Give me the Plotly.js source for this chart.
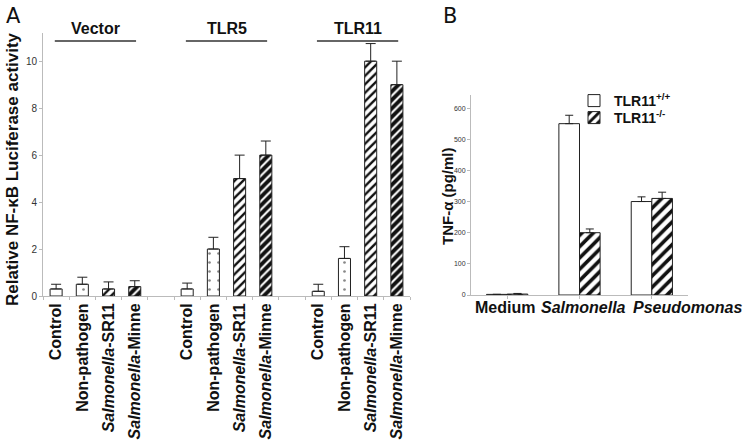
<!DOCTYPE html>
<html>
<head>
<meta charset="utf-8">
<script src="https://cdn.plot.ly/plotly-3.0.1.min.js"></script>
<style>html,body{margin:0;padding:0;background:#fff}#chart{width:745px;height:441px}</style>
</head>
<body>
<div id="chart"></div>
<script>
// ---- Panel A data ----
const groupsA = ['Vector', 'TLR5', 'TLR11'];
const treatmentsA = ['Control', 'Non-pathogen', '<i>Salmonella</i>-SR11', '<i>Salmonella</i>-Minne'];
const controlA = [0.3, 0.3, 0.2];
const nonPathogenA = [0.5, 2.0, 1.6];
const sr11A = [0.3, 5.0, 10.0];
const minneA = [0.4, 6.0, 9.0];
const controlErrA = [0.2, 0.25, 0.3];
const nonPathogenErrA = [0.3, 0.5, 0.5];
const sr11ErrA = [0.3, 1.0, 0.75];
const minneErrA = [0.25, 0.6, 1.0];
const yTicksA = [0, 2, 4, 6, 8, 10];

// ---- Panel B data ----
const categoriesB = ['Medium', 'Salmonella', 'Pseudomonas'];
const categoryLabelsB = ['Medium', '<i>Salmonella</i>', '<i>Pseudomonas</i>'];
const seriesB = ['TLR11<sup>+/+</sup>', 'TLR11<sup>-/-</sup>'];
const wildTypeB = [2, 550, 300];
const knockoutB = [3, 200, 310];
const wildTypeErrB = [0, 27, 15];
const knockoutErrB = [2, 12, 20];
const yTicksB = [0, 100, 200, 300, 400, 500, 600];

const W = 745, H = 441;
const FONT = 'Liberation Sans, Arial, Helvetica, sans-serif';

// slot positions: 4 bars per group, one blank slot between groups
const slotsPerGroup = treatmentsA.length + 1;
function positions(tIdx) { return groupsA.map((g, gi) => gi * slotsPerGroup + tIdx); }
const tickValsA = [], tickTextA = [];
groupsA.forEach((g, gi) => treatmentsA.forEach((t, ti) => { tickValsA.push(gi * slotsPerGroup + ti); tickTextA.push(t); }));

const seriesA = [controlA, nonPathogenA, sr11A, minneA];
const errsA = [controlErrA, nonPathogenErrA, sr11ErrA, minneErrA];
const patternsA = [
  {shape: '', fgcolor: '#000', bgcolor: '#fff'},
  {shape: '.', fgcolor: '#888', bgcolor: '#fff', size: 9, solidity: 0.07},
  {shape: '/', fgcolor: '#111', bgcolor: '#fff', size: 6, solidity: 0.4},
  {shape: '/', fgcolor: '#111', bgcolor: '#fff', size: 6, solidity: 0.65}
];
const BW = 0.46;
const traces = seriesA.map((vals, i) => ({
  type: 'bar', x: positions(i), y: vals, xaxis: 'x', yaxis: 'y',
  width: BW, offset: -BW / 2, showlegend: false, name: treatmentsA[i],
  marker: {color: '#fff', line: {color: '#222', width: 1}, pattern: patternsA[i]},
  error_y: {type: 'data', array: errsA[i], arrayminus: vals.map(() => 0), symmetric: false,
            color: '#222', thickness: 1, width: 5}
}));

const BWB = 0.285;
traces.push({
  type: 'bar', x: categoriesB, y: wildTypeB, xaxis: 'x2', yaxis: 'y2', name: seriesB[0], legend: 'legend',
  width: BWB, offset: -BWB,
  marker: {color: '#fff', line: {color: '#222', width: 1}},
  error_y: {type: 'data', array: wildTypeErrB, arrayminus: wildTypeB.map(() => 0), symmetric: false,
            color: '#222', thickness: 1, width: 4}
});
traces.push({
  type: 'bar', x: categoriesB, y: knockoutB, xaxis: 'x2', yaxis: 'y2', name: seriesB[1], legend: 'legend2',
  width: BWB, offset: 0,
  marker: {color: '#fff', line: {color: '#222', width: 1},
           pattern: {shape: '/', fgcolor: '#111', bgcolor: '#fff', size: 8, solidity: 0.45}},
  error_y: {type: 'data', array: knockoutErrB, arrayminus: knockoutB.map(() => 0), symmetric: false,
            color: '#222', thickness: 1, width: 4}
});

const annotations = [];
const shapes = [];
groupsA.forEach((g, gi) => {
  const c = gi * slotsPerGroup + (treatmentsA.length - 1) / 2;
  annotations.push({text: '<b>' + g + '</b>', x: c, xref: 'x', y: 1 - 28 / H, yref: 'paper',
    showarrow: false, font: {family: FONT, size: 16, color: '#111'}, xanchor: 'center', yanchor: 'middle'});
  shapes.push({type: 'line', xref: 'x', yref: 'paper', x0: c - 1.55, x1: c + 1.55,
    y0: 1 - 41 / H, y1: 1 - 41 / H, line: {color: '#333', width: 1.5}});
});
// Panel B category labels (set as text, spaced like the original figure)
const labelCentersB = [505, 583, 687];
categoryLabelsB.forEach((t, i) => {
  annotations.push({text: '<b>' + t + '</b>', x: labelCentersB[i] / W, xref: 'paper', y: 1 - 307 / H, yref: 'paper',
    showarrow: false, xanchor: 'center', yanchor: 'middle', font: {family: FONT, size: 16, color: '#111'}});
});
annotations.push({text: 'A', x: 4 / W, y: 1 - 2 / H, xref: 'paper', yref: 'paper', xanchor: 'left', yanchor: 'top',
  showarrow: false, font: {family: 'DejaVu Sans, sans-serif', size: 21, color: '#111'}});
annotations.push({text: 'B', x: 441 / W, y: 1 - 2 / H, xref: 'paper', yref: 'paper', xanchor: 'left', yanchor: 'top',
  showarrow: false, font: {family: 'DejaVu Sans, sans-serif', size: 21, color: '#111'}});
annotations.push({text: '<b>Relative NF-κB Luciferase activity</b>', x: 12 / W, y: 1 - 169 / H,
  xref: 'paper', yref: 'paper', textangle: -90, showarrow: false, xanchor: 'center', yanchor: 'middle',
  font: {family: FONT, size: 17, color: '#111'}});
annotations.push({text: '<b>TNF-α (pg/ml)</b>', x: 447 / W, y: 1 - 196 / H,
  xref: 'paper', yref: 'paper', textangle: -90, showarrow: false, xanchor: 'center', yanchor: 'middle',
  font: {family: FONT, size: 15, color: '#111'}});

const legendBase = {x: 574 / W, xanchor: 'left', yanchor: 'middle', bgcolor: 'rgba(0,0,0,0)',
  font: {family: FONT, size: 14, weight: 'bold', color: '#111'}, itemwidth: 30};

const layout = {
  width: W, height: H, margin: {l: 0, r: 0, t: 0, b: 0},
  paper_bgcolor: '#fff', plot_bgcolor: 'rgba(0,0,0,0)',
  barmode: 'overlay', font: {family: FONT, color: '#111'},
  xaxis: {domain: [43 / W, 410 / W], range: [-0.5, 13.5], tickvals: tickValsA, ticktext: tickTextA,
    tickangle: -90, ticks: '', showgrid: false, zeroline: false, showline: true, linecolor: '#bbb', linewidth: 1,
    tickfont: {family: FONT, size: 16, weight: 'bold', color: '#111'}, anchor: 'y',
    minor: {ticks: 'outside', tick0: -0.5, dtick: 1, ticklen: 3, tickcolor: '#bbb', showgrid: false}},
  yaxis: {domain: [1 - 296 / H, 1 - 33 / H], range: [0, 11.2], tickvals: yTicksA, ticks: 'outside', ticklen: 3,
    tickcolor: '#bbb', showgrid: false, zeroline: false, showline: true, linecolor: '#bbb', linewidth: 1,
    tickfont: {family: FONT, size: 10, color: '#333'}},
  xaxis2: {domain: [471 / W, 688 / W], range: [-0.5, 2.5], tickvals: categoriesB, showticklabels: false,
    ticks: '', showgrid: false, zeroline: false, showline: true, linecolor: '#bbb', linewidth: 1, anchor: 'y2',
    minor: {ticks: 'outside', tick0: -0.5, dtick: 1, ticklen: 3, tickcolor: '#bbb', showgrid: false}},
  yaxis2: {domain: [1 - 295 / H, 1 - 95 / H], range: [0, 642], tickvals: yTicksB, ticks: 'outside', ticklen: 3,
    tickcolor: '#bbb', showgrid: false, zeroline: false, showline: true, linecolor: '#bbb', linewidth: 1,
    tickfont: {family: FONT, size: 7, color: '#333'}, anchor: 'x2'},
  showlegend: true,
  legend: Object.assign({}, legendBase, {y: 1 - 101 / H}),
  legend2: Object.assign({}, legendBase, {y: 1 - 118 / H}),
  annotations: annotations, shapes: shapes
};

Plotly.newPlot('chart', traces, layout, {displayModeBar: false, staticPlot: true});
</script>
</body>
</html>
